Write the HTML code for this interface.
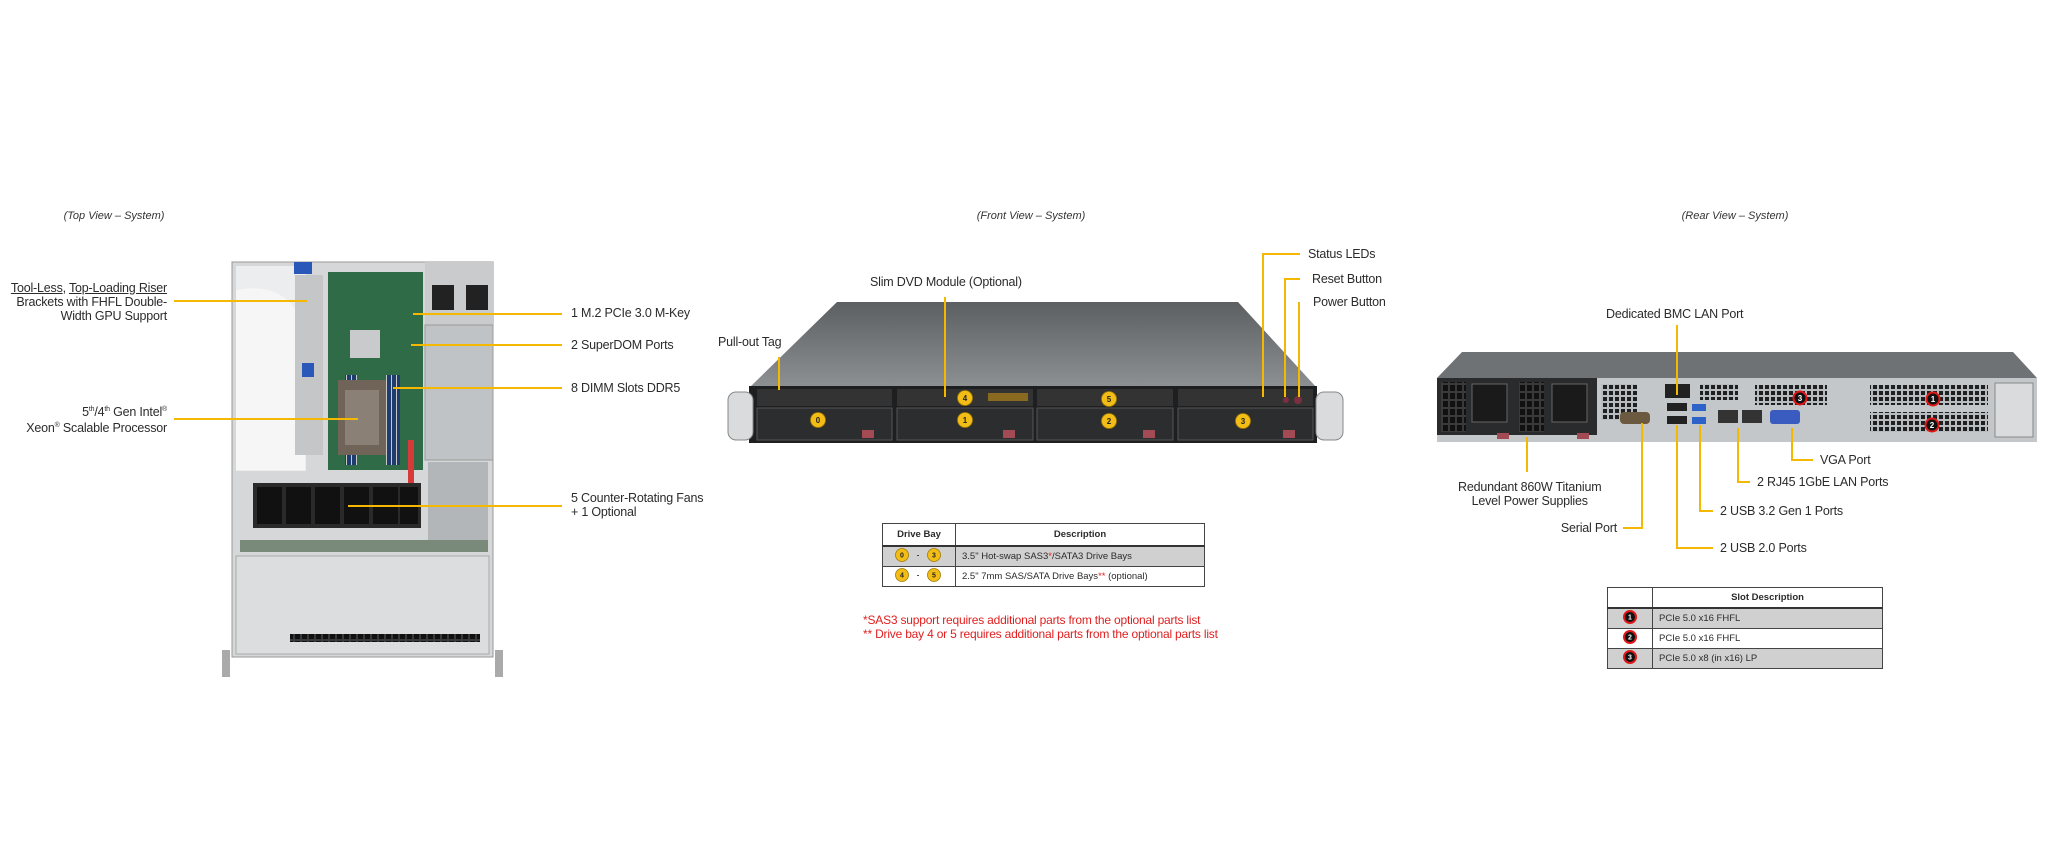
<!DOCTYPE html>
<html><head><meta charset="utf-8"><style>
html,body{margin:0;padding:0;background:#fff;}
body{width:2048px;height:853px;position:relative;overflow:hidden;font-family:"Liberation Sans",Arial,sans-serif;color:#2b2b2b;}
.t{position:absolute;font-size:12.5px;white-space:nowrap;line-height:14px;letter-spacing:-0.2px;}
.cap{position:absolute;font-size:11px;font-style:italic;white-space:nowrap;color:#333;transform:translateX(-50%);}
svg{position:absolute;left:0;top:0;}
table{position:absolute;border-collapse:collapse;font-size:9.5px;}
td{border:1px solid #444;padding:0 6px;height:19px;}
.red{position:absolute;color:#e02020;font-size:12px;white-space:nowrap;letter-spacing:-0.2px;}
</style></head><body>
<svg width="2048" height="853" viewBox="0 0 2048 853">
<defs>
<pattern id="vent" width="6" height="6" patternUnits="userSpaceOnUse"><rect width="6" height="6" fill="#b9bcbf"/><rect x="1" y="1" width="4" height="4" fill="#1d1f21"/></pattern>
<pattern id="grill" width="7" height="8" patternUnits="userSpaceOnUse"><rect width="7" height="8" fill="#3a3a3a"/><rect x="1" y="1" width="5" height="6" fill="#111"/></pattern>
<pattern id="dimm" width="5" height="4" patternUnits="userSpaceOnUse"><rect width="5" height="4" fill="#1e3c6e"/><rect x="1" width="1" height="4" fill="#c8c8c8"/></pattern>
<linearGradient id="topf" x1="0" y1="0" x2="0" y2="1"><stop offset="0" stop-color="#5c5f62"/><stop offset="1" stop-color="#8e9194"/></linearGradient>
</defs>

<!-- TOP VIEW -->
<rect x="222" y="650" width="8" height="27" fill="#aaa"/><rect x="495" y="650" width="8" height="27" fill="#aaa"/>
<rect x="232" y="262" width="261" height="395" fill="#d5d7d8" stroke="#999"/>
<rect x="236" y="266" width="70" height="205" fill="#ecedee"/>
<path d="M236 290 Q290 280 305 330 L305 470 L236 470Z" fill="#f6f6f6"/>
<rect x="295" y="275" width="28" height="180" fill="#c4c6c8"/>
<rect x="294" y="262" width="18" height="12" fill="#2a58b8"/>
<rect x="302" y="363" width="12" height="14" fill="#2a58b8"/>
<rect x="328" y="272" width="95" height="198" fill="#2f6b46"/>
<rect x="350" y="330" width="30" height="28" fill="#c8cacc"/>
<rect x="345" y="375" width="12" height="90" fill="url(#dimm)"/>
<rect x="386" y="375" width="14" height="90" fill="url(#dimm)"/>
<rect x="338" y="380" width="48" height="75" fill="#6f6457"/>
<rect x="345" y="390" width="34" height="55" fill="#8a8075"/>
<rect x="425" y="262" width="68" height="90" fill="#c9cbcd"/>
<rect x="432" y="285" width="22" height="25" fill="#222"/><rect x="466" y="285" width="22" height="25" fill="#222"/>
<rect x="425" y="325" width="68" height="135" fill="#c0c3c6" stroke="#999"/>
<rect x="428" y="462" width="60" height="85" fill="#b3b6b9"/>
<rect x="408" y="440" width="6" height="60" fill="#d83a3a"/>
<rect x="253" y="483" width="168" height="45" fill="#2a2a2a"/>
<g fill="#111"><rect x="257" y="487" width="25" height="37"/><rect x="286" y="487" width="25" height="37"/><rect x="315" y="487" width="25" height="37"/><rect x="344" y="487" width="25" height="37"/><rect x="373" y="487" width="25" height="37"/><rect x="400" y="487" width="18" height="37"/></g>
<rect x="240" y="540" width="248" height="12" fill="#7a8a7a"/>
<rect x="236" y="556" width="253" height="98" fill="#dcdddf" stroke="#aaa"/>
<rect x="290" y="634" width="190" height="8" fill="url(#grill)"/>

<!-- FRONT VIEW -->
<path d="M837 302 L1238 302 L1317 388 L749 388Z" fill="url(#topf)"/>
<rect x="749" y="386" width="568" height="57" fill="#1e1f20"/>
<rect x="728" y="392" width="25" height="48" rx="8" fill="#d9dbdd" stroke="#888"/>
<rect x="1316" y="392" width="27" height="48" rx="8" fill="#d9dbdd" stroke="#888"/>
<g fill="#333"><rect x="757" y="389" width="135" height="17"/><rect x="897" y="389" width="136" height="17"/><rect x="1037" y="389" width="136" height="17"/><rect x="1178" y="389" width="135" height="17"/></g>
<g fill="#2c2d2e" stroke="#555"><rect x="757" y="408" width="135" height="32"/><rect x="897" y="408" width="136" height="32"/><rect x="1037" y="408" width="136" height="32"/><rect x="1178" y="408" width="135" height="32"/></g>
<g fill="#a34a55"><rect x="862" y="430" width="12" height="8"/><rect x="1003" y="430" width="12" height="8"/><rect x="1143" y="430" width="12" height="8"/><rect x="1283" y="430" width="12" height="8"/></g>
<rect x="988" y="393" width="40" height="8" fill="#8a6a20"/>
<g fill="#f2bd17" stroke="#a07a00" stroke-width="0.8"><circle cx="818" cy="420" r="7.5"/><circle cx="965" cy="398" r="7.5"/><circle cx="965" cy="420" r="7.5"/><circle cx="1109" cy="399" r="7.5"/><circle cx="1109" cy="421" r="7.5"/><circle cx="1243" cy="421" r="7.5"/></g>
<g font-family="Liberation Sans" font-size="8" font-weight="bold" text-anchor="middle" fill="#222"><text x="818" y="423">0</text><text x="965" y="401">4</text><text x="965" y="423">1</text><text x="1109" y="402">5</text><text x="1109" y="424">2</text><text x="1243" y="424">3</text></g>
<circle cx="1286" cy="400" r="3" fill="#7a3040"/><circle cx="1298" cy="400" r="4" fill="#7a3040"/>

<!-- REAR VIEW -->
<path d="M1462 352 L2013 352 L2037 378 L1437 378Z" fill="#6f7274"/>
<rect x="1437" y="378" width="600" height="64" fill="#c4c7ca"/>
<rect x="1437" y="378" width="160" height="57" fill="#2a2b2c"/>
<rect x="1441" y="382" width="25" height="50" fill="url(#grill)"/><rect x="1519" y="382" width="25" height="50" fill="url(#grill)"/>
<rect x="1472" y="384" width="35" height="38" fill="#1a1a1a" stroke="#666"/><rect x="1552" y="384" width="35" height="38" fill="#1a1a1a" stroke="#666"/>
<rect x="1497" y="433" width="12" height="6" fill="#a34a55"/><rect x="1577" y="433" width="12" height="6" fill="#a34a55"/>
<rect x="1601" y="384" width="36" height="36" fill="url(#vent)"/>
<rect x="1665" y="384" width="25" height="14" fill="#222"/>
<rect x="1667" y="403" width="20" height="8" fill="#222"/><rect x="1667" y="416" width="20" height="8" fill="#222"/>
<rect x="1692" y="404" width="14" height="7" fill="#2d62c8"/><rect x="1692" y="417" width="14" height="7" fill="#2d62c8"/>
<rect x="1700" y="384" width="38" height="16" fill="url(#vent)"/>
<rect x="1620" y="412" width="30" height="12" rx="4" fill="#6b5a40"/>
<rect x="1718" y="410" width="20" height="13" fill="#333"/><rect x="1742" y="410" width="20" height="13" fill="#333"/>
<rect x="1770" y="410" width="30" height="14" rx="3" fill="#3a5cc0"/>
<rect x="1755" y="385" width="72" height="20" fill="url(#vent)"/>
<rect x="1870" y="385" width="118" height="20" fill="url(#vent)"/>
<rect x="1870" y="412" width="118" height="20" fill="url(#vent)"/>
<rect x="1995" y="383" width="38" height="54" fill="#d9dbdd" stroke="#888"/>
<g fill="#111" stroke="#e01818" stroke-width="2"><circle cx="1800" cy="398" r="6.5"/><circle cx="1933" cy="399" r="6.5"/><circle cx="1932" cy="425" r="6.5"/></g>
<g font-family="Liberation Sans" font-size="8" font-weight="bold" text-anchor="middle" fill="#fff"><text x="1800" y="401">3</text><text x="1933" y="402">1</text><text x="1932" y="428">2</text></g>

<!-- connector lines -->
<g stroke="#f5b800" stroke-width="2" fill="none">
<path d="M174 301 H307"/><path d="M174 419 H358"/>
<path d="M413 314 H562"/><path d="M411 345 H562"/><path d="M393 388 H562"/><path d="M348 506 H562"/>
<path d="M779 357 V390"/><path d="M945 297 V397"/>
<path d="M1300 254 H1263 V397"/><path d="M1300 279 H1285 V397"/><path d="M1299 302 V397"/>
<path d="M1677 325 V395"/><path d="M1527 437 V472"/>
<path d="M1642 423 V528 H1623"/><path d="M1677 425 V548 H1713"/><path d="M1700 425 V511 H1713"/>
<path d="M1738 428 V482 H1750"/><path d="M1792 428 V460 H1813"/>
</g>
</svg>

<div class="cap" style="left:114px;top:210px">(Top View – System)</div>
<div class="cap" style="left:1031px;top:210px">(Front View – System)</div>
<div class="cap" style="left:1735px;top:210px">(Rear View – System)</div>

<div class="t" style="right:1881px;top:281px;text-align:right"><u>Tool-Less</u>, <u>Top-Loading Riser</u><br>Brackets with FHFL Double-<br>Width GPU Support</div>
<div class="t" style="right:1881px;top:403px;text-align:right">5<sup style="font-size:7px">th</sup>/4<sup style="font-size:7px">th</sup> Gen Intel<sup style="font-size:7px">®</sup><br>Xeon<sup style="font-size:7px">®</sup> Scalable Processor</div>
<div class="t" style="left:571px;top:306px">1 M.2 PCIe 3.0 M-Key</div>
<div class="t" style="left:571px;top:338px">2 SuperDOM Ports</div>
<div class="t" style="left:571px;top:381px">8 DIMM Slots DDR5</div>
<div class="t" style="left:571px;top:491px">5 Counter-Rotating  Fans<br>+ 1 Optional</div>

<div class="t" style="left:870px;top:275px">Slim DVD Module (Optional)</div>
<div class="t" style="left:718px;top:335px">Pull-out  Tag</div>
<div class="t" style="left:1308px;top:247px">Status LEDs</div>
<div class="t" style="left:1312px;top:272px">Reset Button</div>
<div class="t" style="left:1313px;top:295px">Power Button</div>

<div class="t" style="left:1606px;top:307px">Dedicated BMC LAN Port</div>
<div class="t" style="left:1458px;top:480px;text-align:center">Redundant  860W Titanium<br>Level Power Supplies</div>
<div class="t" style="right:431px;top:521px">Serial Port</div>
<div class="t" style="left:1720px;top:541px">2 USB 2.0 Ports</div>
<div class="t" style="left:1720px;top:504px">2 USB 3.2 Gen 1 Ports</div>
<div class="t" style="left:1757px;top:475px">2 RJ45 1GbE LAN Ports</div>
<div class="t" style="left:1820px;top:453px">VGA Port</div>

<table style="left:882px;top:523px;width:323px;">
<tr style="border-bottom:2px solid #333"><td style="width:60px;text-align:center;font-weight:bold;height:21px">Drive Bay</td><td style="text-align:center;font-weight:bold">Description</td></tr>
<tr style="background:#d0d0d0"><td style="text-align:center"><svg style="position:static" width="50" height="16"><g fill="#f2bd17" stroke="#a07a00" stroke-width="0.8"><circle cx="8" cy="8" r="6.5"/><circle cx="40" cy="8" r="6.5"/></g><g font-size="7" font-weight="bold" text-anchor="middle" fill="#222" font-family="Liberation Sans"><text x="8" y="10.5">0</text><text x="40" y="10.5">3</text><text x="24" y="10.5">-</text></g></svg></td><td>3.5" Hot-swap SAS3<span style="color:#e02020">*</span>/SATA3 Drive  Bays</td></tr>
<tr><td style="text-align:center"><svg style="position:static" width="50" height="16"><g fill="#f2bd17" stroke="#a07a00" stroke-width="0.8"><circle cx="8" cy="8" r="6.5"/><circle cx="40" cy="8" r="6.5"/></g><g font-size="7" font-weight="bold" text-anchor="middle" fill="#222" font-family="Liberation Sans"><text x="8" y="10.5">4</text><text x="40" y="10.5">5</text><text x="24" y="10.5">-</text></g></svg></td><td>2.5" 7mm SAS/SATA Drive  Bays<span style="color:#e02020">**</span> (optional)</td></tr>
</table>
<div class="red" style="left:863px;top:613px">*SAS3 support requires additional parts from the optional parts list</div>
<div class="red" style="left:863px;top:627px">** Drive bay 4 or 5 requires additional parts from the optional parts list</div>

<table style="left:1607px;top:587px;width:276px;">
<tr style="border-bottom:2px solid #333"><td style="width:32px;height:19px"></td><td style="text-align:center;font-weight:bold">Slot Description</td></tr>
<tr style="background:#d0d0d0"><td style="text-align:center;height:18px"><svg style="position:static" width="16" height="16"><circle cx="8" cy="8" r="6" fill="#111" stroke="#e01818" stroke-width="2"/><text x="8" y="10.5" font-size="7" font-weight="bold" text-anchor="middle" fill="#fff" font-family="Liberation Sans">1</text></svg></td><td>PCIe 5.0 x16 FHFL</td></tr>
<tr><td style="text-align:center;height:18px"><svg style="position:static" width="16" height="16"><circle cx="8" cy="8" r="6" fill="#111" stroke="#e01818" stroke-width="2"/><text x="8" y="10.5" font-size="7" font-weight="bold" text-anchor="middle" fill="#fff" font-family="Liberation Sans">2</text></svg></td><td>PCIe 5.0 x16 FHFL</td></tr>
<tr style="background:#d0d0d0"><td style="text-align:center;height:18px"><svg style="position:static" width="16" height="16"><circle cx="8" cy="8" r="6" fill="#111" stroke="#e01818" stroke-width="2"/><text x="8" y="10.5" font-size="7" font-weight="bold" text-anchor="middle" fill="#fff" font-family="Liberation Sans">3</text></svg></td><td>PCIe 5.0 x8 (in x16) LP</td></tr>
</table>
</body></html>
